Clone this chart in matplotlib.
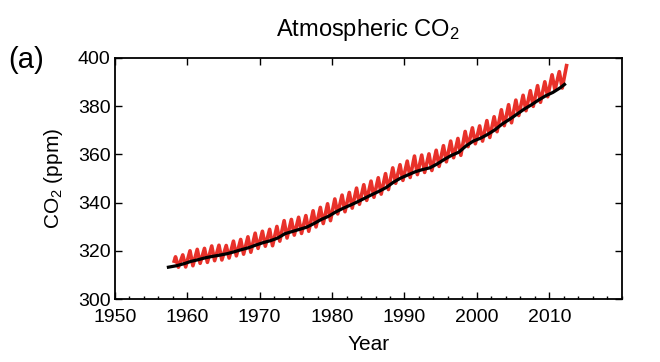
import matplotlib
matplotlib.use('Agg')
import matplotlib.pyplot as plt
from matplotlib.ticker import MultipleLocator

plt.rcParams['font.family'] = ['Liberation Sans', 'DejaVu Sans']
plt.rcParams['mathtext.fontset'] = 'custom'
plt.rcParams['mathtext.rm'] = 'Liberation Sans'
plt.rcParams['mathtext.default'] = 'regular'

# Mauna Loa (red): seasonal maxima (May) and minima (autumn)
years = list(range(1958, 2013))
ml_peak = [317.5, 318.3, 320.0, 320.6, 321.0, 322.0, 322.3, 322.2, 324.0, 324.7,
           325.8, 327.3, 328.1, 328.9, 330.1, 332.5, 333.0, 333.9, 334.6, 336.6,
           338.0, 339.5, 341.5, 343.1, 344.2, 346.0, 347.4, 348.9, 350.3, 352.0,
           354.4, 355.7, 357.2, 359.3, 359.7, 360.2, 361.7, 363.6, 365.5, 366.6,
           369.5, 371.0, 371.8, 374.0, 375.6, 378.5, 380.6, 382.5, 384.5, 386.4,
           388.5, 390.1, 393.0, 394.3, 396.8]
ml_trough = [313.2, 313.3, 313.8, 314.8, 315.2, 315.9, 316.2, 317.0, 317.9, 318.6,
             319.4, 321.0, 321.9, 322.1, 324.0, 325.3, 326.5, 327.2, 328.1, 329.9,
             331.3, 332.5, 335.3, 336.2, 337.7, 339.3, 340.9, 342.2, 343.5, 345.4,
             348.0, 349.2, 350.4, 351.6, 352.5, 353.3, 355.0, 356.9, 358.6, 359.6,
             363.2, 364.4, 365.5, 367.0, 369.4, 371.9, 373.1, 376.1, 378.1, 379.9,
             381.6, 383.9, 386.7, 387.5, 389.9]
ml_start = (1958.2, 315.7)

# South Pole (black), annual values
sp_years = [1957.4] + [y + 0.5 for y in range(1958, 2012)] + [2012.1]
sp_co2 = [313.2, 313.8, 314.6, 315.6, 316.3, 317.1, 317.7, 318.2, 318.8, 319.6,
          320.5, 321.3, 322.4, 323.4, 324.2, 325.3, 327.1, 328.0, 328.9, 329.8,
          331.3, 333.0, 334.3, 336.1, 337.6, 338.9, 340.3, 341.8, 343.3, 344.7,
          346.3, 348.5, 350.2, 351.5, 352.8, 353.7, 354.4, 356.0, 357.9, 359.6,
          360.9, 363.5, 365.5, 366.7, 368.3, 370.2, 372.6, 374.5, 376.6, 378.7,
          380.5, 382.5, 384.3, 385.7, 387.6, 389.0]

# build the red zigzag: peak in May, minimum in October
ml_t = [ml_start[0]]
ml_v = [ml_start[1]]
for i, y in enumerate(years):
    ml_t.append(y + 0.38)
    ml_v.append(ml_peak[i])
    if y < 2012:
        ml_t.append(y + 0.78)
        ml_v.append(ml_trough[i])

fig = plt.figure(figsize=(6.6, 3.62), dpi=100)
ax = fig.add_axes([0.174, 0.174, 0.768, 0.666])

ax.plot(ml_t, ml_v, color='#e8312a', lw=2.6, zorder=2)
ax.plot(sp_years, sp_co2, color='black', lw=2.3, zorder=3)

ax.set_xlim(1950, 2020)
ax.set_ylim(300, 400)
ax.xaxis.set_minor_locator(MultipleLocator(2))
ax.yaxis.set_major_locator(MultipleLocator(20))
ax.set_xticks([1950, 1960, 1970, 1980, 1990, 2000, 2010])
ax.tick_params(which='major', direction='in', length=5, width=1,
               top=True, right=True, labelsize=14)
ax.tick_params(axis='x', which='major', pad=7)
ax.tick_params(axis='y', which='major', pad=3)
ax.tick_params(which='minor', direction='in', length=2.5, width=1,
               top=False, right=False)
for s in ax.spines.values():
    s.set_linewidth(1.3)

ax.set_xlabel('Year', fontsize=15, labelpad=7)
ax.set_ylabel('CO$_2$ (ppm)', fontsize=15, labelpad=9)
ax.set_title('Atmospheric CO$_2$', fontsize=17, pad=16)
fig.text(0.012, 0.835, '(a)', fontsize=21, va='center', ha='left')

fig.savefig('out.png', dpi=100)
